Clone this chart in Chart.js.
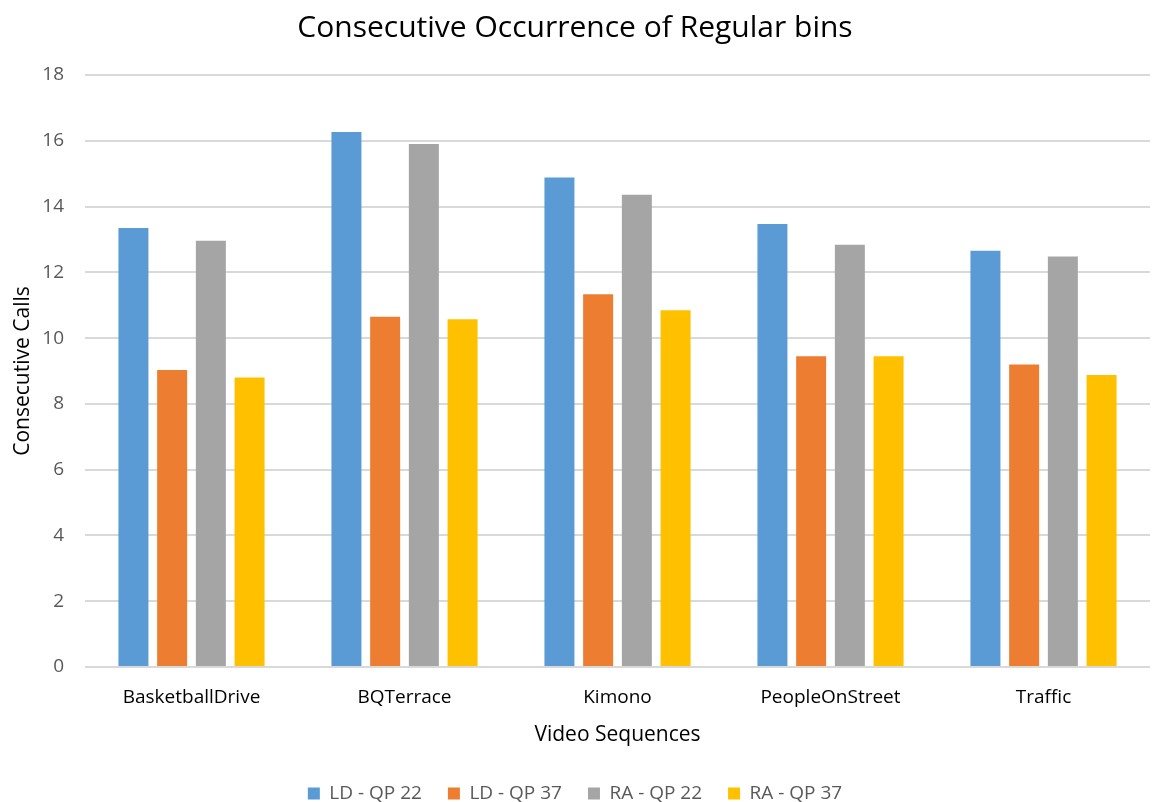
<!DOCTYPE html>
<html>
<head>
<meta charset="utf-8">
<script src="https://cdn.jsdelivr.net/npm/chart.js@4"></script>
<style>
  html, body { margin: 0; padding: 0; background: #ffffff; }
  #wrap { width: 1152px; height: 802px; }
</style>
</head>
<body>
<div id="wrap"><canvas id="c" width="1152" height="802"></canvas></div>
<script>
// Video sequences on the x axis
const categories = ["BasketballDrive", "BQTerrace", "Kimono", "PeopleOnStreet", "Traffic"];

// Consecutive calls per configuration
const ldQp22 = [13.35, 16.27, 14.88, 13.47, 12.66];
const ldQp37 = [9.03, 10.65, 11.33, 9.45, 9.20];
const raQp22 = [12.96, 15.90, 14.36, 12.84, 12.48];
const raQp37 = [8.80, 10.57, 10.85, 9.45, 8.88];

const seriesNames = ["LD - QP 22", "LD - QP 37", "RA - QP 22", "RA - QP 37"];
const seriesColors = ["#5b9bd5", "#ed7d31", "#a5a5a5", "#ffc000"];

const yTicks = [0, 2, 4, 6, 8, 10, 12, 14, 16, 18];

const FONT = "'Open Sans', sans-serif";
const TEXT = "#595959";

const datasets = [ldQp22, ldQp37, raQp22, raQp37].map((vals, i) => ({
  label: seriesNames[i],
  data: vals,
  backgroundColor: seriesColors[i],
  borderWidth: 0,
  categoryPercentage: 0.727,
  barPercentage: 0.775
}));

new Chart(document.getElementById("c"), {
  type: "bar",
  data: { labels: categories, datasets },
  options: {
    responsive: false,
    animation: false,
    devicePixelRatio: 1,
    layout: { padding: { left: 0, right: 2, top: 6, bottom: -11 } },
    plugins: {
      title: {
        display: true,
        text: "Consecutive Occurrence of Regular bins",
        color: "#000000",
        font: { family: FONT, size: 30, weight: "normal" },
        padding: { top: 4, bottom: 29 }
      },
      legend: {
        position: "bottom",
        labels: {
          color: TEXT,
          font: { family: FONT, size: 19 },
          boxWidth: 12,
          boxHeight: 12,
          padding: 26
        }
      },
      tooltip: { enabled: false }
    },
    scales: {
      x: {
        grid: { display: false },
        border: { display: false },
        ticks: { color: "#000000", font: { family: FONT, size: 19 }, padding: 11 },
        title: {
          display: true,
          text: "Video Sequences",
          color: "#000000",
          font: { family: FONT, size: 21 },
          padding: { top: 3, bottom: 10 }
        }
      },
      y: {
        min: 0,
        max: 18,
        afterBuildTicks: (scale) => { scale.ticks = yTicks.map(v => ({ value: v })); },
        afterFit: (scale) => { scale.width = 85; },
        grid: { color: "#d9d9d9", lineWidth: 2, drawTicks: false },
        border: { display: false },
        ticks: { color: TEXT, font: { family: FONT, size: 19 }, padding: 21 },
        title: {
          display: true,
          text: "Consecutive Calls",
          color: "#000000",
          font: { family: FONT, size: 21 },
          padding: { top: 10, bottom: 8 }
        }
      }
    }
  }
});
</script>
</body>
</html>
